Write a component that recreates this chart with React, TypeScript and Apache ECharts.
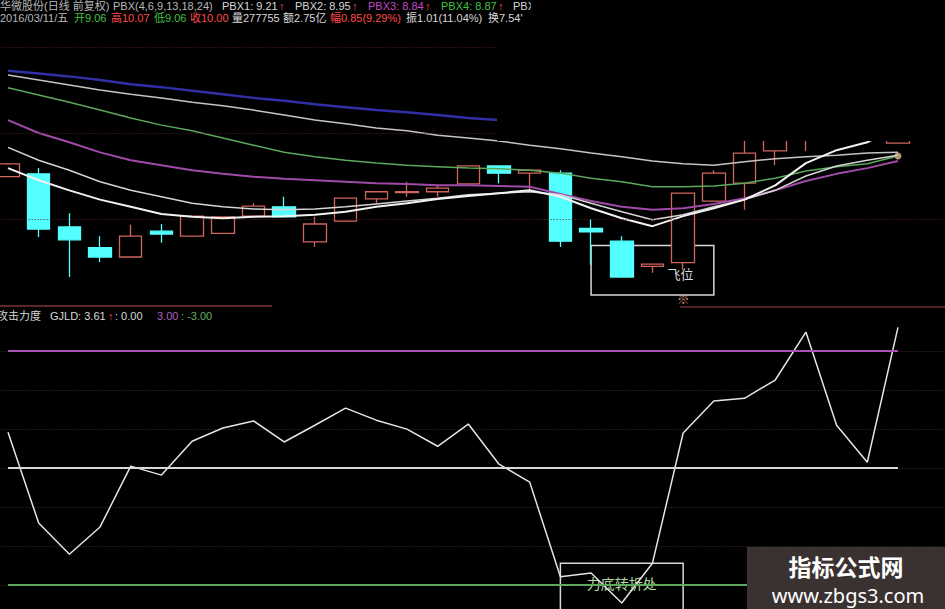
import React, { useEffect, useRef } from "react";
import * as echarts from "echarts";

// trading days shown (last = 2016/03/11)
const dates = [
  "2016/01/25", "2016/01/26", "2016/01/27", "2016/01/28", "2016/01/29",
  "2016/02/01", "2016/02/02", "2016/02/03", "2016/02/04", "2016/02/05",
  "2016/02/15", "2016/02/16", "2016/02/17", "2016/02/18", "2016/02/19",
  "2016/02/22", "2016/02/23", "2016/02/24", "2016/02/25", "2016/02/26",
  "2016/02/29", "2016/03/01", "2016/03/02", "2016/03/03", "2016/03/04",
  "2016/03/07", "2016/03/08", "2016/03/09", "2016/03/10", "2016/03/11",
];

// [open, close, low, high]
const candles = [
  [8.59, 8.77, 8.59, 8.78],
  [8.63, 7.86, 7.75, 8.71],
  [7.89, 7.71, 7.19, 8.08],
  [7.6, 7.47, 7.4, 7.76],
  [7.47, 7.76, 7.46, 7.92],
  [7.83, 7.79, 7.67, 7.93],
  [7.76, 8.04, 7.76, 8.04],
  [7.8, 8.03, 7.8, 8.03],
  [8.04, 8.18, 8.04, 8.22],
  [8.17, 8.03, 8.03, 8.31],
  [7.68, 7.93, 7.61, 8.03],
  [7.97, 8.29, 7.96, 8.29],
  [8.28, 8.38, 8.22, 8.38],
  [8.37, 8.38, 8.31, 8.52],
  [8.38, 8.43, 8.31, 8.47],
  [8.49, 8.74, 8.49, 8.74],
  [8.74, 8.64, 8.5, 8.74],
  [8.64, 8.68, 8.4, 8.68],
  [8.64, 7.69, 7.61, 8.68],
  [7.87, 7.82, 7.36, 8.0],
  [7.69, 7.19, 7.19, 7.76],
  [7.34, 7.37, 7.25, 7.37],
  [7.39, 8.36, 7.29, 8.36],
  [8.25, 8.64, 8.25, 8.68],
  [8.5, 8.92, 8.13, 9.1],
  [8.95, 9.31, 8.75, 9.41],
  [9.17, 9.52, 8.95, 9.59],
  [9.27, 9.66, 9.14, 9.73],
  [9.59, 9.31, 9.19, 9.69],
  [9.06, 10.0, 9.06, 10.07],
];

const pbx1 = [8.71, 8.54, 8.4, 8.27, 8.17, 8.07, 8.03, 8.01, 8.03, 8.04, 8.06, 8.1, 8.17, 8.22, 8.28, 8.32, 8.36, 8.4, 8.31, 8.15, 8.01, 7.9, 8.04, 8.15, 8.27, 8.47, 8.78, 8.96, 9.07, 9.31];
const pbx2 = [9.0, 8.82, 8.68, 8.52, 8.4, 8.31, 8.22, 8.17, 8.14, 8.13, 8.14, 8.17, 8.21, 8.25, 8.29, 8.34, 8.36, 8.38, 8.34, 8.22, 8.1, 7.99, 8.06, 8.17, 8.27, 8.4, 8.6, 8.74, 8.82, 8.89];
const pbx3 = [9.38, 9.2, 9.07, 8.93, 8.82, 8.75, 8.68, 8.63, 8.59, 8.56, 8.54, 8.52, 8.5, 8.49, 8.47, 8.47, 8.46, 8.45, 8.35, 8.25, 8.17, 8.13, 8.15, 8.21, 8.29, 8.4, 8.53, 8.63, 8.71, 8.81];
const pbx4 = [9.83, 9.73, 9.63, 9.52, 9.41, 9.31, 9.23, 9.13, 9.03, 8.93, 8.87, 8.82, 8.78, 8.75, 8.73, 8.71, 8.7, 8.68, 8.64, 8.57, 8.52, 8.45, 8.45, 8.46, 8.5, 8.57, 8.67, 8.73, 8.77, 8.88];
const pbx5 = [10.01, 9.94, 9.87, 9.8, 9.74, 9.69, 9.63, 9.58, 9.52, 9.45, 9.38, 9.33, 9.27, 9.23, 9.17, 9.13, 9.09, 9.03, 8.98, 8.92, 8.87, 8.81, 8.77, 8.75, 8.8, 8.84, 8.87, 8.89, 8.92, 8.93];
const pbx6 = [10.07, 10.03, 9.99, 9.94, 9.88, 9.84, 9.79, 9.74, 9.69, 9.65, 9.6, 9.56, 9.52, 9.49, 9.45, 9.41, 9.38, 9.37, 9.36, 9.35, 9.34, 9.33, 9.32, 9.31, 9.3, 9.29, 9.28, 9.27, 9.26, 9.25];

// 攻击力度 GJLD
const gjld = [0.92, -1.41, -2.21, -1.51, 0.05, -0.18, 0.69, 1.03, 1.21, 0.67, 1.1, 1.54, 1.23, 1.0, 0.56, 1.13, 0.1, -0.36, -2.79, -2.69, -3.46, -2.44, 0.9, 1.72, 1.79, 2.26, 3.49, 1.1, 0.15, 3.61];
const gjldLevels = [3, 0, -3];
const gjldLevelColors = ["#a452b4", "#d8d8d8", "#5ea85e"];

const mainGridLevels = [8.0, 9.2, 10.4];
const launchBox = { from: 19, to: 23, top: 7.63, bottom: 6.94, label: "飞位" };
const turnBox = { from: 18, to: 22, top: -2.44, bottom: -4, label: "力底转折处" };
const riseMark = { index: 22, value: 6.87 };
const endMark = { index: 29, value: 8.88 };

export default function App() {
  const ref = useRef<HTMLDivElement>(null);
  useEffect(() => {
    const chart = echarts.init(ref.current!, null, { renderer: "svg" });
    const cats = [...dates, ""];
    const font = '"Liberation Sans", "Noto Sans CJK SC", sans-serif';
    const txt = (text: string, x: number, y: number, fill: string, size = 11, z = 40) => ({
      type: "text",
      x,
      y,
      z,
      style: { text, fill, fontSize: size, fontFamily: font, verticalAlign: "middle", align: "left" },
    });
    const red = "#ff4a4a";
    const green = "#44c044";
    const white = "#d8d8d8";
    const gray = "#b8b8b8";

    const maLine = (name: string, data: number[], color: string, width: number) => ({
      name,
      type: "line",
      xAxisIndex: 0,
      yAxisIndex: 0,
      data,
      showSymbol: false,
      symbol: "none",
      silent: true,
      lineStyle: { color, width },
    });

    const r1 = 5.5;
    const r2 = 17.5;
    const option: any = {
      animation: false,
      backgroundColor: "#000000",
      grid: [
        { left: -7.35, right: 1, top: 47, height: 258, outerBoundsMode: "none", containLabel: false },
        { left: -7.35, right: 1, top: 320, height: 304, outerBoundsMode: "none", containLabel: false },
      ],
      xAxis: [
        { type: "category", data: cats, gridIndex: 0, show: false, boundaryGap: true },
        { type: "category", data: cats, gridIndex: 1, show: false, boundaryGap: true },
      ],
      yAxis: [
        { type: "value", gridIndex: 0, min: 6.8, max: 10.4, show: false, splitLine: { show: false } },
        {
          type: "value",
          gridIndex: 1,
          min: -4,
          max: 3.8,
          interval: 1,
          axisLine: { show: false },
          axisTick: { show: false },
          axisLabel: { show: false },
          splitLine: {
            show: true,
            showMaxLine: false,
            showMinLine: false,
            lineStyle: { color: "#4a3434", type: [1, 2], width: 1 },
          },
        },
      ],
      series: [
        {
          name: "K",
          type: "candlestick",
          xAxisIndex: 0,
          yAxisIndex: 0,
          data: candles,
          barWidth: 23,
          silent: true,
          itemStyle: {
            color: "#000000",
            color0: "#54ffff",
            borderColor: "#d0665c",
            borderColor0: "#54ffff",
            borderWidth: 1.3,
          },
          markLine: {
            silent: true,
            symbol: ["none", "none"],
            label: { show: false },
            lineStyle: { color: "#5a2424", type: [1, 2], width: 1 },
            data: mainGridLevels.map((v) => ({ yAxis: v })),
          },
          markArea: {
            silent: true,
            itemStyle: { color: "rgba(0,0,0,0)", borderColor: "#d8d8d8", borderWidth: 1.5 },
            label: {
              show: true,
              position: "insideRight",
              distance: 21,
              offset: [0, 4],
              color: "#dcdcdc",
              fontSize: 13,
              fontFamily: font,
            },
            data: [
              [
                { name: launchBox.label, coord: [dates[launchBox.from], launchBox.top] },
                { coord: [dates[launchBox.to], launchBox.bottom] },
              ],
            ],
          },
        },
        maLine("PBX6", pbx6, "#2f2fa6", 2.5),
        maLine("PBX5", pbx5, "#c4c4c4", 1.5),
        maLine("PBX4", pbx4, "#5aa85a", 1.5),
        maLine("PBX3", pbx3, "#a04aa8", 2),
        maLine("PBX2", pbx2, "#d4d4d4", 1.5),
        maLine("PBX1", pbx1, "#f2f2f2", 2),
        {
          name: "rise",
          type: "scatter",
          xAxisIndex: 0,
          yAxisIndex: 0,
          symbolSize: 1,
          silent: true,
          itemStyle: { color: "rgba(0,0,0,0)" },
          label: {
            show: true,
            position: "inside",
            formatter: "※",
            color: "#f0a484",
            fontSize: 13,
            fontFamily: font,
          },
          data: [[dates[riseMark.index], riseMark.value]],
        },
        {
          name: "end",
          type: "scatter",
          xAxisIndex: 0,
          yAxisIndex: 0,
          symbolSize: 7,
          silent: true,
          itemStyle: { color: "#f0b890" },
          data: [[dates[endMark.index], endMark.value]],
        },
        {
          name: "GJLD",
          type: "line",
          xAxisIndex: 1,
          yAxisIndex: 1,
          data: gjld,
          showSymbol: false,
          symbol: "none",
          silent: true,
          lineStyle: { color: "#e4e4e4", width: 1.5 },
          markLine: {
            silent: true,
            symbol: ["none", "none"],
            label: { show: false },
            data: gjldLevels.map((v, k) => [
              { coord: [dates[0], v], lineStyle: { color: gjldLevelColors[k], width: 2, type: "solid" } },
              { coord: [dates[dates.length - 1], v] },
            ]),
          },
          markArea: {
            silent: true,
            itemStyle: { color: "rgba(0,0,0,0)", borderColor: "#d8d8d8", borderWidth: 1.5 },
            label: {
              show: true,
              position: "insideTop",
              distance: 15,
              color: "#b4d8a4",
              fontSize: 14,
              fontFamily: font,
            },
            data: [
              [
                { name: turnBox.label, coord: [dates[turnBox.from], turnBox.top] },
                { coord: [dates[turnBox.to], turnBox.bottom] },
              ],
            ],
          },
        },
      ],
      graphic: {
        elements: [
          // cropped-away region of the top right
          { type: "rect", z: 50, shape: { x: 497, y: 25, width: 448, height: 116 }, style: { fill: "#000000" } },
          { type: "rect", z: 50, shape: { x: 531, y: 0, width: 414, height: 25 }, style: { fill: "#000000" } },
          // panel separator
          { type: "line", z: 45, shape: { x1: 0, y1: 306, x2: 272, y2: 306 }, style: { stroke: "#7a3434", lineWidth: 1.5 } },
          { type: "line", z: 45, shape: { x1: 680, y1: 307, x2: 945, y2: 307 }, style: { stroke: "#6a2c2c", lineWidth: 1.5 } },
          // header row 1
          txt("华微股份(日线 前复权)", 0, r1, gray),
          txt("PBX(4,6,9,13,18,24)", 113, r1, gray),
          txt("PBX1: 9.21", 222, r1, white),
          txt("↑", 279, r1, red),
          txt("PBX2: 8.95", 295, r1, white),
          txt("↑", 352, r1, red),
          txt("PBX3: 8.84", 368, r1, "#c64ac6"),
          txt("↑", 425, r1, red),
          txt("PBX4: 8.87", 441, r1, green),
          txt("↑", 498, r1, red),
          txt("PBX5", 513, r1, white),
          // header row 2
          txt("2016/03/11/五", 0, r2, gray),
          txt("开9.06", 74, r2, green),
          txt("高10.07", 111, r2, red),
          txt("低9.06", 154, r2, green),
          txt("收10.00", 190, r2, red),
          txt("量277755", 232, r2, white),
          txt("额2.75亿", 283, r2, white),
          txt("幅0.85(9.29%)", 330, r2, red),
          txt("振1.01(11.04%)", 406, r2, white),
          txt("换7.54'", 488, r2, white),
          // indicator title
          txt("攻击力度", -3, 316, white),
          txt("GJLD: 3.61", 50, 316, white),
          txt("↑", 108, 316, red),
          txt(": 0.00", 115, 316, white),
          txt("3.00", 157, 316, "#b060c0"),
          txt(": -3.00", 181, 316, "#60b060"),
          // watermark
          { type: "rect", z: 60, shape: { x: 747, y: 547, width: 198, height: 62 }, style: { fill: "#3a3230" } },
          {
            type: "text",
            z: 61,
            x: 846,
            y: 566,
            style: {
              text: "指标公式网",
              fill: "#ffffff",
              fontSize: 23,
              fontWeight: "bold",
              fontFamily: '"Noto Sans CJK SC", sans-serif',
              align: "center",
              verticalAlign: "middle",
            },
          },
          {
            type: "text",
            z: 61,
            x: 848,
            y: 595,
            style: {
              text: "www.zbgs3.com",
              fill: "#ffffff",
              fontSize: 20,
              fontFamily: '"Noto Sans", sans-serif',
              align: "center",
              verticalAlign: "middle",
            },
          },
        ],
      },
    };
    chart.setOption(option);
    return () => chart.dispose();
  }, []);
  return <div ref={ref} style={{ position: "absolute", left: 0, top: 0, width: 945, height: 609 }} />;
}
